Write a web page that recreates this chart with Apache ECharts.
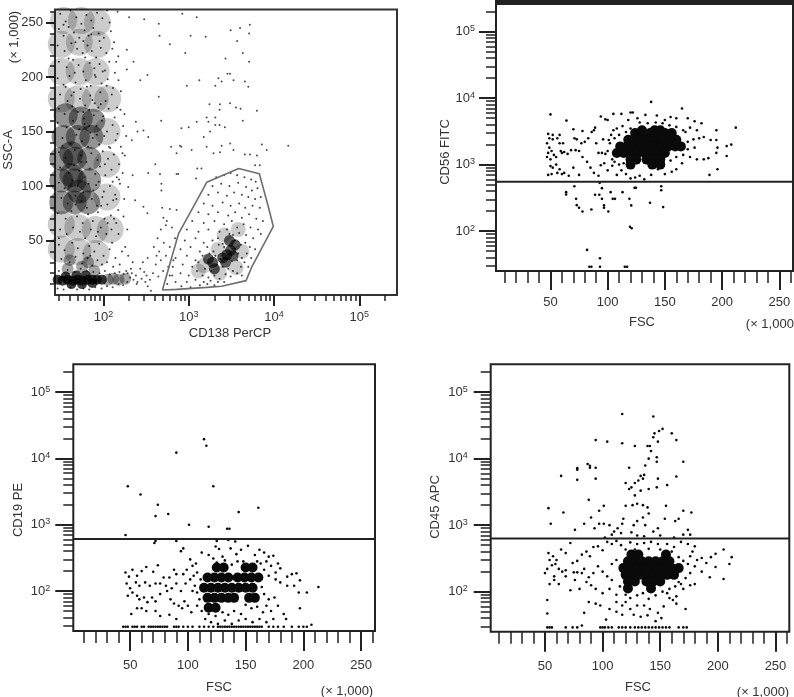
<!DOCTYPE html>
<html>
<head>
<meta charset="utf-8">
<title>Flow cytometry plots</title>
<script src="https://cdn.jsdelivr.net/npm/echarts@6/dist/echarts.min.js"></script>
<style>
html, body { margin: 0; padding: 0; background: #fff; }
#chart { width: 794px; height: 697px; }
</style>
</head>
<body>
<div id="chart"></div>
<script>
// tick values
var logMajor = [100, 1000, 10000, 100000];
var logMinor = [30, 40, 50, 60, 70, 80, 90, 200, 300, 400, 500, 600, 700, 800, 900, 2000, 3000, 4000, 5000, 6000, 7000, 8000, 9000, 20000, 30000, 40000, 50000, 60000, 70000, 80000, 90000, 200000];
var sscMajor = [50, 100, 150, 200, 250];
var sscMinor = [10, 20, 30, 40, 60, 70, 80, 90, 110, 120, 130, 140, 160, 170, 180, 190, 210, 220, 230, 240, 260];
var fscMajor = [50, 100, 150, 200, 250];
var fscMinor = [10, 20, 30, 40, 60, 70, 80, 90, 110, 120, 130, 140, 160, 170, 180, 190, 210, 220, 230, 240, 260];

// CD138 / SSC-A panel
var gateLine = [[491,4.6],[723,5.2],[1626,7],[2438,8],[4699,13.2],[5470,25.5],[9817,62.9],[8590,80.7],[6730,111.3],[3855,116],[1626,103.4],[757,56],[491,4.6]];
var cloudShade = [[32,180],[50,180],[80,180],[32,205],[52,205],[82,205],[32,230],[52,232],[85,230],[34,252],[55,252],[85,250],[110,150],[110,120],[110,90],[112,180],[32,65],[50,62],[80,60],[32,42],[50,40],[82,38],[120,60]];
var cloudCore = [[32,85],[46,85],[66,85],[32,105],[46,105],[68,105],[32,125],[46,125],[68,125],[34,145],[50,145],[72,145],[36,165],[54,162],[76,160],[42,110],[42,130],[52,95]];
var debrisCore = [[29,14],[33,13],[38,14],[44,13],[50,14],[57,13],[65,14],[74,14],[84,14],[96,14],[36,17],[48,18],[62,18],[42,10],[56,10],[74,11]];
var debrisFade = [[112,14],[130,15],[150,14],[180,15],[38,24],[56,26],[78,22],[40,32],[66,30]];
var gateCore = [[2800,37],[2500,34],[3100,41],[3300,36],[2700,30],[1900,30],[2000,24],[1700,33],[3500,46],[3000,50]];
var gateShade = [[1500,27],[2200,42],[2600,55],[3800,60],[4200,40],[3600,25],[1300,22],[2300,20]];
var cloudPoints = [[31,258],[36,251],[41,261],[48,255],[55,249],[63,257],[72,252],[84,259],[97,254],[110,261],[118,250],[30,244],[34,238],[39,246],[45,241],[52,236],[60,243],[67,238],[76,245],[88,240],[101,236],[122,242],[133,232],[29,229],[35,224],[42,231],[49,226],[57,222],[65,229],[73,224],[82,218],[93,227],[108,222],[127,226],[141,214],[30,214],[37,209],[44,216],[51,211],[58,205],[69,213],[78,208],[90,212],[104,206],[117,214],[136,204],[149,219],[29,199],[34,193],[40,201],[47,195],[54,189],[62,197],[71,192],[81,200],[95,194],[112,198],[129,190],[150,197],[31,184],[38,178],[45,186],[53,180],[61,174],[70,183],[79,176],[92,186],[106,178],[125,184],[144,172],[160,187],[30,171],[35,166],[43,173],[50,168],[59,162],[68,170],[77,165],[87,172],[99,164],[115,171],[135,163],[158,170],[176,166],[29,158],[37,154],[44,160],[52,152],[60,157],[70,149],[83,155],[96,160],[110,150],[128,156],[146,148],[170,155],[33,144],[41,139],[48,147],[56,141],[66,136],[75,144],[89,138],[102,146],[120,135],[139,142],[160,136],[185,146],[30,131],[36,126],[46,133],[54,128],[63,122],[72,130],[85,124],[98,132],[113,125],[132,129],[152,120],[178,128],[31,117],[39,112],[45,119],[52,114],[60,108],[69,116],[80,111],[91,118],[105,110],[124,115],[143,108],[168,112],[30,103],[35,98],[43,105],[50,100],[58,94],[67,102],[76,96],[88,104],[101,95],[119,100],[137,92],[156,102],[32,89],[38,84],[47,91],[55,86],[64,80],[73,88],[84,82],[97,90],[111,83],[130,87],[149,78],[175,88],[29,75],[36,70],[42,77],[49,72],[57,66],[66,74],[75,68],[86,76],[103,70],[122,73],[141,66],[172,72],[190,60],[31,60],[37,56],[44,62],[53,58],[61,52],[71,60],[82,54],[93,62],[108,56],[126,48],[150,56],[180,44],[30,46],[35,41],[43,48],[50,43],[58,38],[68,45],[78,40],[89,47],[100,36],[118,42],[138,34],[165,40],[195,36],[220,30],[32,33],[40,30],[47,35],[56,29],[65,34],[74,27],[85,32],[96,28],[110,30],[130,26],[155,28],[185,22],[210,24],[34,248],[47,232],[61,218],[79,202],[42,183],[68,155],[33,137],[55,122],[82,101],[47,83],[30,52],[70,36],[93,175],[116,136],[104,120],[128,104],[94,82],[112,66],[86,58],[142,88],[167,130],[152,106],[133,70],[124,60],[58,233],[72,239],[39,217],[90,233],[46,204],[64,191],[36,191],[98,205],[74,179],[58,168],[109,192],[84,147]];
var debrisPoints = [[29,6],[34,5],[41,7],[49,5],[58,6],[68,5],[80,7],[95,6],[110,8],[128,7],[150,10],[170,9],[190,12],[205,16],[225,14],[240,18],[250,12],[270,24],[30,22],[38,23],[46,21],[54,24],[64,22],[76,21],[90,20],[104,22],[118,19],[136,20],[154,21],[172,19],[192,20],[215,20],[245,10],[280,15],[310,12],[330,8],[360,4],[300,21],[320,18],[350,14],[290,30],[330,34],[380,20],[410,28],[440,17],[470,32],[500,22],[540,36],[575,26],[390,44],[430,52],[470,60],[450,40],[510,48],[540,64],[420,36],[600,44],[640,18],[660,32],[690,52]];
var sparsePoints = [[840,258],[1240,255],[146,260],[200,255],[300,253],[445,249],[455,238],[600,230],[1050,238],[1580,237],[188,225],[225,214],[188,207],[328,202],[270,197],[910,222],[3100,243],[4000,245],[5200,248],[5100,240],[3700,233],[4300,222],[5100,214],[2700,217],[2850,203],[3050,203],[1330,197],[950,192],[2050,192],[2230,199],[2430,196],[3350,197],[4550,196],[5000,191],[445,182],[1750,175],[2320,175],[3050,176],[3580,172],[4050,171],[6300,169],[2300,170],[2050,163],[1620,163],[1700,159],[1240,159],[4300,160],[2050,156],[2300,156],[2650,154],[475,160],[240,159],[294,151],[250,150],[820,153],[1000,154],[1500,145],[1780,150],[335,145],[215,142],[620,136],[790,137],[1620,136],[2430,137],[3060,139],[3350,133],[7200,138],[8200,133],[14700,137],[6300,128],[5230,129],[4550,129],[2330,131],[1950,130],[1080,133],[720,130],[820,136],[405,120],[335,112],[460,111],[720,111],[755,111],[1260,116],[1410,116],[6000,119],[6800,119],[1220,107],[478,102],[478,96],[220,110],[195,99],[235,87],[294,81],[328,75],[488,80],[600,79],[720,78],[505,71],[553,68],[635,62]];
var gatePoints = [[2100,108],[2600,110],[3100,112],[3700,110],[4500,108],[5400,106],[6100,104],[1900,100],[2400,102],[3000,100],[3800,103],[4700,99],[5500,96],[6400,98],[1700,92],[2200,94],[2800,91],[3400,94],[4200,92],[5000,90],[6000,88],[7000,90],[1500,84],[1900,82],[2500,85],[3100,82],[3900,84],[4600,80],[5600,82],[6800,80],[1300,76],[1700,74],[2200,76],[2900,73],[3500,76],[4200,71],[5100,74],[6200,70],[7400,68],[1100,68],[1500,66],[2000,68],[2600,65],[3200,68],[3700,62],[4400,65],[5300,62],[6500,60],[950,60],[1300,58],[1700,60],[2300,58],[2800,60],[3300,55],[3900,57],[4700,55],[5700,52],[7000,56],[900,50],[1200,52],[1500,48],[1900,50],[2200,52],[2500,47],[3000,56],[3500,50],[4100,46],[4600,48],[5200,44],[6000,42],[800,42],[1050,44],[1350,40],[1650,44],[1950,40],[2250,46],[2600,44],[3000,45],[3400,42],[3800,38],[4200,34],[4800,38],[5400,34],[700,34],[950,36],[1200,32],[1450,36],[1750,38],[2050,36],[2350,33],[3200,31],[3700,32],[4100,26],[4500,30],[5000,26],[650,26],[850,28],[1100,26],[1300,30],[1550,24],[1850,22],[2150,28],[2500,26],[2900,24],[3300,22],[3700,20],[4200,18],[600,18],[800,20],[1000,18],[1250,22],[1450,18],[1700,16],[2000,18],[2300,15],[2700,19],[3100,17],[700,12],[950,12],[1200,14],[1500,12],[1800,13],[2200,12],[2600,12],[560,10],[820,8],[1050,7],[1350,9],[1650,10],[2000,9]];

// CD56 FITC / FSC panel
var cd56Threshold = 550;
var cd56Core = [[124,2985],[130,2985],[137,2985],[143,2985],[150,2985],[156,2985],[130,3300],[141,3300],[146,3300],[118,2370],[124,2370],[130,2370],[136,2370],[142,2370],[148,2370],[154,2370],[160,2370],[111,1880],[117,1880],[123,1880],[129,1880],[135,1880],[141,1880],[147,1880],[153,1880],[159,1880],[164,1880],[108,1500],[114,1500],[120,1500],[126,1500],[132,1500],[138,1500],[144,1500],[150,1500],[120,1190],[125,1190],[134,1190],[139,1190],[146,1190],[120,1000],[139,1000],[146,1000]];
var cd56Points = [[473,0]].slice(1).concat([[50,5700],[64,4600],[70,3400],[48,2900],[52,2800],[58,2800],[49,2500],[47,2100],[49,1800],[51,1600],[48,1500],[53,1400],[47,1300],[50,1200],[55,1300],[60,1500],[59,1600],[62,1550],[65,1450],[58,2100],[61,2100],[52,2400],[56,2500],[71,2500],[73,2400],[68,1650],[72,1650],[75,1600],[77,2100],[80,2200],[83,2500],[86,3100],[78,3200],[89,3600],[88,3300],[90,2100],[92,1500],[95,1500],[98,1450],[100,1600],[96,2400],[101,2350],[103,2800],[98,4800],[94,5300],[100,4700],[105,5800],[112,5800],[120,6100],[50,950],[52,900],[55,1000],[58,850],[48,700],[51,720],[56,750],[60,720],[62,750],[66,680],[70,900],[75,700],[78,1300],[82,1100],[85,900],[88,750],[92,680],[94,980],[97,1050],[100,820],[104,960],[108,700],[112,820],[116,720],[120,620],[124,640],[128,680],[132,600],[138,700],[144,850],[150,720],[156,780],[160,850],[165,1050],[172,1300],[178,1200],[184,1200],[190,2350],[195,2350],[168,3100],[172,3600],[178,3300],[182,4200],[176,4500],[170,5000],[165,7000],[160,5000],[155,5200],[150,4700],[143,5500],[138,8800],[133,5600],[126,5000],[122,6100],[118,4700],[113,3800],[108,3500],[105,3300],[170,2200],[175,2400],[180,2500],[184,2600],[170,1700],[176,1800],[166,1400],[160,1300],[155,1150],[188,1250],[189,700],[196,850],[195,1500],[196,1800],[195,3300],[204,1350],[204,1900],[208,2000],[212,3600],[128,4300],[135,4200],[142,4300],[148,4200],[154,3900],[160,3700],[166,3300],[104,1200],[106,1100],[110,1000],[114,1050],[102,2100],[106,2500],[110,2800],[116,3100],[120,3500]]);
var cd56Low = [[70.9,473],[63.7,385],[63.7,355],[72.4,305],[73,245],[75,224],[78,197],[85.8,211],[89,351],[92.7,351],[95,442],[95,305],[96.8,243],[96.8,224],[100.6,197],[93,531],[102.6,385],[104.4,305],[106.4,305],[113,385],[119,305],[120.6,243],[119.5,116],[121,110],[123.5,447],[124.7,447],[137,266],[146.8,473],[146.8,412],[148.5,229],[82,52],[93.3,39],[84,29],[85.8,29],[93.3,29],[115,29],[117,29]];

// CD19 PE / FSC panel
var cd19Threshold = 612;
var cd19Core = [[125,226],[131,226],[150,226],[156,226],[117,160],[123,160],[129,160],[135,160],[143,160],[149,160],[155,160],[161,160],[114,112],[120,112],[126,112],[132,112],[138,112],[144,112],[150,112],[156,112],[117,79],[123,79],[129,79],[135,79],[140,79],[153,79],[158,79],[118,56],[124,56]];
var cd19High = [[114,19500],[116,15500],[90,12200],[48,3800],[59,2850],[122,3800],[74,2000],[72,1350],[83,1450],[101,1000],[118,930],[134,870],[136,870],[144,1550],[161,1800],[46,700],[72,570],[71,530],[90,570],[125,570],[135,590],[141,560]];
var cd19Points = [[46,190],[49,165],[52,210],[56,170],[60,200],[64,230],[70,195],[74,245],[79,160],[84,160],[88,210],[90,180],[47,130],[50,110],[55,135],[58,120],[63,135],[67,120],[72,130],[76,130],[81,120],[86,110],[90,130],[48,85],[52,95],[56,85],[58,75],[62,80],[65,68],[69,80],[72,70],[76,90],[82,100],[85,75],[88,65],[92,60],[95,55],[97,70],[100,60],[103,48],[51,45],[56,55],[60,55],[64,50],[72,50],[76,42],[84,44],[90,38],[94,100],[98,130],[102,150],[105,170],[108,190],[111,150],[96,180],[99,210],[94,400],[96,440],[102,300],[104,240],[107,260],[112,380],[118,350],[122,310],[124,470],[127,430],[132,290],[137,440],[142,360],[146,420],[152,480],[158,350],[162,420],[166,380],[170,330],[174,340],[178,260],[180,220],[176,190],[172,240],[168,280],[166,210],[170,170],[176,150],[180,135],[186,165],[190,180],[194,185],[197,145],[186,120],[192,120],[196,95],[203,95],[213,115],[197,55],[183,45],[185,38],[178,60],[175,80],[170,75],[166,90],[164,115],[168,60],[172,50],[165,48],[160,58],[155,55],[150,62],[146,45],[140,50],[135,44],[130,48],[124,42],[118,45],[112,50],[110,75],[108,95],[112,120],[106,120],[104,100],[108,60],[115,38],[120,34],[126,32],[132,36],[138,32],[144,36],[150,38],[156,34],[162,38],[168,34],[174,38],[125,270],[130,330],[138,250],[143,280],[148,280],[160,280],[163,260],[207,31]];
var cd19Floor = [[44,29],[46,29],[48,29],[52,29],[54,29],[56,29],[60,29],[62,29],[66,29],[68,29],[70,29],[72,29],[74,29],[76,29],[78,29],[80,29],[82,29],[88,29],[90,29],[92,29],[96,29],[100,29],[104,29],[110,29],[114,29],[118,29],[122,29],[126,29],[128,29],[130,29],[132,29],[134,29],[136,29],[138,29],[140,29],[142,29],[144,29],[146,29],[148,29],[150,29],[152,29],[154,29],[156,29],[158,29],[160,29],[162,29],[164,29],[170,29],[174,29],[178,29],[183,29],[190,29],[196,29],[200,29],[203,29]];

// CD45 APC / FSC panel
var cd45Threshold = 630;
var cd45Core = [[125,361],[131,361],[155,361],[122,286],[128,286],[134,286],[140,286],[146,286],[152,286],[158,286],[118,226],[124,226],[130,226],[136,226],[142,226],[148,226],[154,226],[160,226],[166,226],[120,179],[126,179],[132,179],[138,179],[144,179],[150,179],[156,179],[162,179],[122,142],[128,142],[138,142],[144,142],[150,142],[122,112],[142,112]];
var cd45High = [[117,47000],[144,43000],[152,28000],[149,26000],[145,24000],[144,21000],[160,24000],[164,19000],[94,19000],[104,18000],[117,17000],[128,15500],[139,15500],[141,15500],[142,13000],[148,18000],[140,10000],[147,10500],[147,9000],[170,9000],[87,8300],[89,7800],[89,7300],[94,7300],[78,7200],[78,6800],[64,5500],[78,4800],[94,5000],[123,7300],[133,5500],[135,5000],[137,7900],[164,5400],[148,5000],[156,4000],[120,4300],[128,4300],[131,4700],[136,5700],[123,3500],[125,3700],[133,3300],[140,3500],[147,3700],[128,2800],[88,2400],[53,1800],[66,1550],[55,1050],[76,850],[84,1050],[90,1300],[97,1650],[101,1950],[93,900],[97,1050],[101,1050],[106,1000],[110,800],[113,900],[117,1050],[120,1950],[118,1250],[126,2000],[130,2100],[135,2000],[139,1850],[127,1000],[130,1150],[135,1300],[137,1000],[140,1500],[144,800],[148,900],[154,1250],[155,1950],[163,1150],[166,1250],[170,1650],[177,1550],[174,850],[170,720],[176,720],[125,780],[130,700],[116,760],[108,720],[102,650],[136,680],[150,700],[162,650]];
var cd45Points = [[53,380],[57,340],[60,300],[64,430],[68,380],[54,300],[56,250],[59,260],[62,220],[65,200],[68,210],[72,540],[74,270],[78,290],[82,360],[86,400],[89,340],[92,470],[96,480],[100,420],[104,560],[108,520],[112,580],[116,500],[120,430],[124,550],[130,520],[136,540],[142,560],[148,520],[156,520],[162,470],[168,560],[174,520],[180,480],[178,400],[176,340],[182,300],[186,320],[190,270],[194,330],[198,370],[205,430],[212,330],[210,260],[198,235],[193,165],[205,155],[186,200],[180,240],[176,190],[172,160],[180,130],[176,125],[170,110],[166,140],[164,85],[172,55],[164,66],[158,80],[153,60],[148,48],[146,36],[151,40],[141,55],[136,62],[130,62],[124,55],[120,70],[117,45],[112,50],[106,55],[98,62],[88,70],[84,48],[103,38],[94,66],[52,75],[52,47],[100,95],[94,110],[90,125],[86,140],[80,110],[76,150],[72,105],[68,170],[62,130],[58,150],[54,130],[50,190],[52,220],[58,170],[75,195],[78,195],[82,190],[84,220],[88,165],[92,190],[96,240],[100,200],[104,170],[108,150],[106,110],[112,90],[115,120],[108,260],[112,300],[116,250],[120,90],[124,80],[130,88],[135,95],[140,78],[146,88],[152,100],[158,110],[163,120],[112,70],[117,62],[127,45],[133,42],[139,44],[156,95],[161,75],[170,290],[174,260],[166,330],[168,130],[160,400],[150,430],[140,440],[128,430]];
var cd45Floor = [[52,29],[54,29],[56,29],[68,29],[74,29],[78,29],[98,29],[100,29],[102,29],[105,29],[108,29],[114,29],[117,29],[120,29],[124,29],[128,29],[131,29],[134,29],[137,29],[140,29],[143,29],[146,29],[149,29],[152,29],[155,29],[158,29],[166,29],[170,29],[173,29],[82,31]];

var fontName = '"Liberation Sans Narrow", "Liberation Sans", sans-serif';
var textColor = '#333';
var tickColor = '#222';

var panels = [
    {left: 55, top: 9.5, width: 342, height: 285.5, xLog: true, xMin: 27, xMax: 277000, yLog: false, yMin: 0, yMax: 262, border: '#333', yMajorLen: 9, yMinorLen: 5, xMajorLen: 11, xMinorLen: 6, yMargin: 12, xMargin: 15},
    {left: 496, top: 4, width: 297, height: 267, xLog: false, xMin: 2.4, xMax: 262, yLog: true, yMin: 25, yMax: 262144, border: '#222', yMajorLen: 17, yMinorLen: 10, xMajorLen: 19, xMinorLen: 12, yMargin: 21, xMargin: 25},
    {left: 73.3, top: 364.3, width: 301.7, height: 266.7, xLog: false, xMin: 0.8, xMax: 262, yLog: true, yMin: 25, yMax: 262144, border: '#222', yMajorLen: 18, yMinorLen: 10, xMajorLen: 20, xMinorLen: 12, yMargin: 23, xMargin: 28},
    {left: 490.7, top: 364.3, width: 298.6, height: 267.4, xLog: false, xMin: 2.9, xMax: 262, yLog: true, yMin: 25, yMax: 262144, border: '#222', yMajorLen: 17, yMinorLen: 10, xMajorLen: 20, xMinorLen: 12, yMargin: 23, xMargin: 28}
];

function logLabel(v) {
    return '{b|10}{s|' + Math.round(Math.log(v) / Math.LN10) + '}';
}
var logRich = {
    b: {fontFamily: fontName, fontSize: 13, color: textColor},
    s: {fontFamily: fontName, fontSize: 9, color: textColor, padding: [0, 0, 6, 0]}
};

var option = {
    animation: false,
    backgroundColor: '#fff',
    grid: [], xAxis: [], yAxis: [], series: [],
    graphic: []
};

function addAxis(list, isX, p, i, major) {
    var isLog = isX ? p.xLog : p.yLog;
    var big = isLog ? logMajor : (isX ? fscMajor : sscMajor);
    var small = isLog ? logMinor : (isX ? fscMinor : sscMinor);
    var axis = {
        type: isLog ? 'log' : 'value',
        gridIndex: i,
        position: isX ? 'bottom' : 'left',
        min: isX ? p.xMin : p.yMin,
        max: isX ? p.xMax : p.yMax,
        splitLine: {show: false},
        minorTick: {show: false},
        axisLine: {show: false},
        axisTick: {
            show: true,
            customValues: major ? big : small,
            length: major ? (isX ? p.xMajorLen : p.yMajorLen) : (isX ? p.xMinorLen : p.yMinorLen),
            lineStyle: {color: tickColor, width: major ? 2 : 1.5}
        },
        axisLabel: {show: false}
    };
    if (major) {
        axis.axisLabel = {
            show: true,
            customValues: big,
            margin: isX ? p.xMargin : p.yMargin,
            fontFamily: fontName,
            fontSize: 13,
            color: textColor,
            showMinLabel: true,
            showMaxLabel: true,
            rich: logRich
        };
        if (isLog) axis.axisLabel.formatter = logLabel;
    }
    list.push(axis);
}

panels.forEach(function (p, i) {
    option.grid.push({
        left: p.left, top: p.top, width: p.width, height: p.height,
        show: true, borderColor: p.border, borderWidth: 2, backgroundColor: 'transparent',
        containLabel: false
    });
    addAxis(option.xAxis, true, p, i, true);
    addAxis(option.xAxis, true, p, i, false);
    addAxis(option.yAxis, false, p, i, true);
    addAxis(option.yAxis, false, p, i, false);
});

function dots(panel, data, size, color, opacity) {
    option.series.push({
        type: 'scatter',
        xAxisIndex: panel * 2,
        yAxisIndex: panel * 2,
        data: data,
        symbol: 'circle',
        symbolSize: size,
        large: false,
        silent: true,
        itemStyle: {color: color, opacity: opacity}
    });
}

function line(panel, data, color, width) {
    option.series.push({
        type: 'line',
        xAxisIndex: panel * 2,
        yAxisIndex: panel * 2,
        data: data,
        showSymbol: false,
        silent: true,
        z: 5,
        lineStyle: {color: color, width: width}
    });
}

// first panel
dots(0, cloudShade, 27, '#000', 0.2);
dots(0, cloudCore, 24, '#000', 0.42);
dots(0, debrisFade, 12, '#000', 0.35);
dots(0, debrisCore, 10, '#000', 0.75);
dots(0, gateShade, 15, '#000', 0.2);
dots(0, gateCore, 11, '#000', 0.65);
dots(0, cloudPoints, 2, '#000', 0.75);
dots(0, debrisPoints, 2, '#000', 0.7);
dots(0, sparsePoints, 2, '#000', 0.7);
dots(0, gatePoints, 2, '#000', 0.75);
line(0, gateLine, '#6e6e6e', 1.6);

// FSC panels
dots(1, cd56Core, 10, '#0a0a0a', 1);
dots(1, cd56Points, 2.6, '#0a0a0a', 1);
dots(1, cd56Low, 2.6, '#0a0a0a', 1);
line(1, [[panels[1].xMin, cd56Threshold], [panels[1].xMax, cd56Threshold]], '#222', 2);

dots(2, cd19Core, 10, '#0a0a0a', 1);
dots(2, cd19Points, 2.6, '#0a0a0a', 1);
dots(2, cd19High, 2.6, '#0a0a0a', 1);
dots(2, cd19Floor, 2.6, '#0a0a0a', 1);
line(2, [[panels[2].xMin, cd19Threshold], [panels[2].xMax, cd19Threshold]], '#222', 2);

dots(3, cd45Core, 10, '#0a0a0a', 1);
dots(3, cd45Points, 2.6, '#0a0a0a', 1);
dots(3, cd45High, 2.6, '#0a0a0a', 1);
dots(3, cd45Floor, 2.6, '#0a0a0a', 1);
line(3, [[panels[3].xMin, cd45Threshold], [panels[3].xMax, cd45Threshold]], '#222', 2);

function addText(text, x, y, rotated) {
    option.graphic.push({
        type: 'text', x: x, y: y, rotation: rotated ? Math.PI / 2 : 0,
        style: {text: text, fontFamily: fontName, fontSize: 13, fill: textColor, align: 'center', verticalAlign: 'middle'}
    });
}
addText('SSC-A', 8, 150, true);
addText('(× 1,000)', 14, 37, true);
addText('CD138 PerCP', 230, 333);
addText('CD56 FITC', 445, 152, true);
addText('FSC', 642, 322);
addText('(× 1,000)', 772, 324);
addText('CD19 PE', 18, 510, true);
addText('FSC', 219, 687);
addText('(× 1,000)', 347, 691);
addText('CD45 APC', 435, 507, true);
addText('FSC', 638, 687);
addText('(× 1,000)', 763, 692);
// heavy top edge of the second panel
option.graphic.push({type: 'rect', shape: {x: 495, y: 0, width: 299, height: 4}, style: {fill: '#222'}});

var chart = echarts.init(document.getElementById('chart'));
chart.setOption(option);
</script>
</body>
</html>
